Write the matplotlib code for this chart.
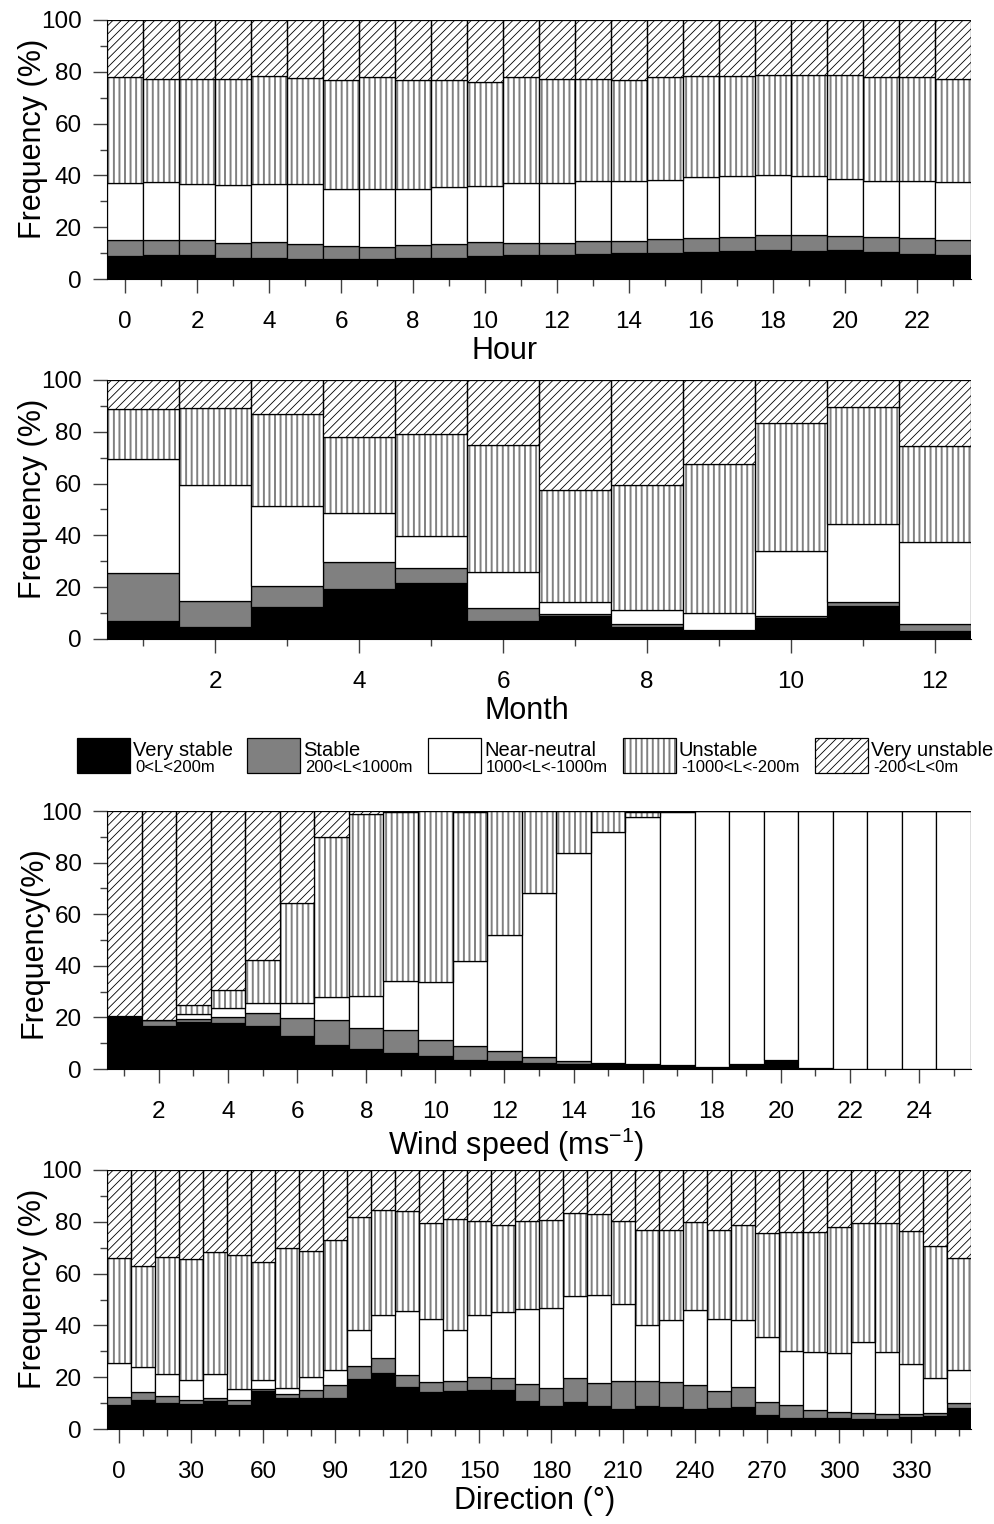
import numpy as np
import matplotlib
matplotlib.use("Agg")
import matplotlib.pyplot as plt
from matplotlib.patches import Rectangle
from matplotlib.ticker import MultipleLocator, FixedLocator

plt.rcParams['font.family'] = ['Liberation Sans', 'DejaVu Sans']
plt.rcParams['mathtext.fontset'] = 'custom'
plt.rcParams['mathtext.rm'] = 'Liberation Sans'
plt.rcParams['mathtext.it'] = 'Liberation Sans:italic'
plt.rcParams['mathtext.bf'] = 'Liberation Sans:bold'

# ---------------- data (cumulative tops of each stability class, %) ----------------
hours = np.arange(24)
hour_vs = [8.9, 9.4, 9.3, 8.1, 8.1, 7.9, 7.7, 7.7, 8.0, 8.2, 9.0, 9.3, 9.3, 9.8, 10.1, 10.1, 10.3, 11.0, 11.1, 10.8, 11.1, 10.6, 9.8, 9.3]
hour_s = [15.2, 14.9, 15.1, 14.0, 14.4, 13.7, 12.9, 12.5, 13.1, 13.7, 14.4, 14.0, 14.0, 14.7, 14.8, 15.3, 16.0, 16.2, 17.1, 16.8, 16.6, 16.4, 15.7, 15.1]
hour_nn = [36.9, 37.4, 36.6, 36.3, 36.7, 36.5, 34.9, 34.9, 34.9, 35.6, 36.1, 37.0, 37.2, 38.0, 38.0, 38.4, 39.2, 39.7, 40.3, 39.9, 38.7, 38.0, 38.0, 37.5]
hour_un = [77.8, 77.4, 77.1, 77.4, 78.4, 77.7, 76.9, 77.8, 76.9, 76.8, 76.0, 77.8, 77.1, 77.2, 76.7, 77.8, 78.4, 78.4, 78.6, 78.6, 78.6, 77.8, 77.8, 77.1]

months = np.arange(1, 13)
month_vs = [6.8, 4.8, 12.4, 19.2, 21.8, 7.0, 8.9, 4.8, 3.2, 8.0, 12.6, 3.2]
month_s = [25.3, 14.7, 20.6, 29.6, 27.4, 12.0, 9.7, 5.8, 3.3, 8.9, 14.2, 5.8]
month_nn = [69.6, 59.4, 51.5, 48.8, 39.9, 25.8, 14.2, 11.3, 10.2, 34.1, 44.5, 37.5]
month_un = [88.8, 89.2, 87.0, 77.8, 79.3, 75.0, 57.7, 59.3, 67.4, 83.4, 89.4, 74.7]

winds = np.arange(1, 26)
wind_vs = [19.7, 16.5, 18.1, 17.8, 16.5, 12.9, 9.4, 7.7, 6.2, 4.9, 3.4, 3.0, 2.2, 2.1, 2.3, 1.9, 1.5, 0.9, 1.9, 3.5, 0.5, 0, 0, 0, 0]
wind_s = [20.1, 19.0, 19.5, 20.1, 21.7, 19.9, 18.8, 16.0, 15.2, 11.4, 8.8, 7.1, 4.5, 3.0, 2.3, 1.9, 1.5, 0.9, 1.9, 3.5, 0.5, 0, 0, 0, 0]
wind_nn = [20.1, 19.0, 21.5, 23.5, 25.5, 25.5, 28.1, 28.3, 34.2, 33.7, 41.7, 51.9, 68.3, 83.6, 92.0, 97.8, 99.5, 100, 100, 100, 100, 100, 100, 100, 100]
wind_un = [20.4, 19.0, 24.9, 30.6, 42.2, 64.5, 89.9, 98.7, 99.7, 100, 99.8, 100, 100, 100, 100, 99.6, 100, 100, 100, 100, 100, 100, 100, 100, 100]

dirs = np.arange(0, 360, 10)
dir_vs = [9.4, 11.1, 10.1, 9.8, 10.8, 9.3, 14.8, 12.0, 12.0, 12.1, 19.3, 21.6, 16.2, 14.3, 14.7, 15.2, 15.1, 10.8,
          8.9, 10.3, 8.8, 7.6, 8.9, 8.4, 7.9, 8.0, 8.5, 5.4, 4.3, 4.1, 4.4, 3.9, 3.7, 4.6, 4.9, 8.1]
dir_s = [12.5, 14.2, 12.8, 11.1, 12.0, 11.1, 15.5, 13.7, 15.2, 16.8, 24.2, 27.3, 20.7, 18.2, 18.4, 20.2, 19.8, 17.3,
         15.9, 19.5, 17.9, 18.6, 18.6, 18.3, 17.0, 14.7, 16.1, 10.3, 9.1, 7.3, 6.6, 6.2, 5.7, 5.9, 6.3, 10.2]
dir_nn = [25.3, 24.1, 21.4, 18.9, 21.4, 15.5, 18.8, 15.9, 20.1, 22.9, 38.4, 44.1, 45.7, 42.5, 38.1, 44.2, 45.2, 46.3,
          46.9, 51.5, 51.8, 48.3, 40.3, 41.9, 46.1, 42.5, 42.1, 35.7, 30.0, 29.9, 29.5, 33.4, 29.9, 25.0, 19.8, 22.7]
dir_un = [65.9, 62.9, 66.6, 65.7, 68.2, 67.0, 64.4, 70.0, 68.7, 72.9, 81.7, 84.5, 84.0, 79.4, 80.9, 80.5, 78.7, 80.5,
          80.8, 83.5, 83.2, 80.3, 76.8, 76.8, 80.0, 76.8, 78.6, 75.6, 76.0, 76.0, 78.0, 79.4, 79.4, 76.3, 70.7, 66.0]

class_names = ["Very stable", "Stable", "Near-neutral", "Unstable", "Very unstable"]
class_ranges = ["0<L<200m", "200<L<1000m", "1000<L<-1000m", "-1000<L<-200m", "-200<L<0m"]

# ---------------- styles ----------------
STY = [
    dict(color='black', hatch=None, hcolor=None, hlw=None),
    dict(color='#808080', hatch=None, hcolor=None, hlw=None),
    dict(color='white', hatch=None, hcolor=None, hlw=None),
    dict(color='white', hatch='|||', hcolor='#808080', hlw=1.4),
    dict(color='white', hatch='////', hcolor='black', hlw=0.6),
]
EDGE = 'black'
EDGE_LW = 0.9
TICKC = '#404040'


def draw_bar(ax, x, h, b, w, s):
    if s['hatch'] is None:
        ax.bar(x, h, bottom=b, width=w, color=s['color'], edgecolor=EDGE, linewidth=EDGE_LW, align='center')
    else:
        with plt.rc_context({'hatch.linewidth': s['hlw'], 'hatch.color': s['hcolor']}):
            bars = ax.bar(x, h, bottom=b, width=w, color=s['color'], edgecolor=s['hcolor'],
                          linewidth=0, hatch=s['hatch'], align='center')
            for p in bars:
                if hasattr(p, 'set_hatch_linewidth'):
                    p.set_hatch_linewidth(s['hlw'])
        ax.bar(x, h, bottom=b, width=w, fill=False, edgecolor=EDGE, linewidth=EDGE_LW, align='center')


def stacked(ax, x, vs, s, nn, un, w):
    tops = np.vstack([vs, s, nn, un, np.full(len(x), 100.0)])
    bottoms = np.vstack([np.zeros(len(x)), tops[:-1]])
    heights = tops - bottoms
    for k in range(5):
        draw_bar(ax, x, heights[k], bottoms[k], w, STY[k])


def style_axis(ax, xlim, major, minor, labels, xlabel, ylabel, lx, ly):
    ax.set_xlim(*xlim)
    ax.set_ylim(0, 100)
    ax.xaxis.set_major_locator(FixedLocator(major))
    ax.xaxis.set_minor_locator(FixedLocator(minor))
    ax.set_xticklabels(labels)
    ax.yaxis.set_major_locator(MultipleLocator(20))
    ax.yaxis.set_minor_locator(MultipleLocator(10))
    ax.tick_params(axis='both', which='major', direction='out', length=10, width=1.0,
                   color=TICKC, labelsize=17.5)
    ax.tick_params(axis='both', which='minor', direction='out', length=5, width=1.0, color=TICKC)
    ax.tick_params(axis='x', which='major', pad=13)
    ax.tick_params(axis='y', which='major', pad=8)
    ax.spines['top'].set_visible(False)
    ax.spines['right'].set_visible(False)
    ax.spines['left'].set_color('black')
    ax.spines['bottom'].set_color('black')
    ax.set_xlabel(xlabel, fontsize=22)
    ax.set_ylabel(ylabel, fontsize=22)
    ax.xaxis.set_label_coords(lx, -0.22)
    ax.yaxis.set_label_coords(-0.068, ly)


fig = plt.figure(figsize=(9.94, 15.24), dpi=100)
W, H = 994.0, 1524.0
left, width = 107 / W, 864 / W


def make_ax(top_px, bottom_px):
    return fig.add_axes([left, 1 - bottom_px / H, width, (bottom_px - top_px) / H])


ax1 = make_ax(20, 279)
stacked(ax1, hours, hour_vs, hour_s, hour_nn, hour_un, 1.0)
style_axis(ax1, (-0.5, 23.5), np.arange(0, 24, 2), np.arange(1, 24, 2),
           [str(v) for v in np.arange(0, 24, 2)], "Hour", "Frequency (%)", 0.46, 0.54)

ax2 = make_ax(380, 639)
stacked(ax2, months, month_vs, month_s, month_nn, month_un, 1.0)
style_axis(ax2, (0.5, 12.5), np.arange(2, 13, 2), np.arange(1, 13, 2),
           [str(v) for v in np.arange(2, 13, 2)], "Month", "Frequency (%)", 0.486, 0.54)

ax3 = make_ax(811, 1069)
stacked(ax3, winds, wind_vs, wind_s, wind_nn, wind_un, 1.0)
style_axis(ax3, (0.5, 25.5), np.arange(2, 25, 2), np.arange(1, 26, 2),
           [str(v) for v in np.arange(2, 25, 2)], "Wind speed (ms$^{\\mathrm{-1}}$)", "Frequency(%)", 0.473, 0.49)

ax4 = make_ax(1170, 1429)
stacked(ax4, dirs, dir_vs, dir_s, dir_nn, dir_un, 10.0)
style_axis(ax4, (-5, 355), np.arange(0, 360, 30), np.arange(0, 360, 10),
           [str(v) for v in np.arange(0, 360, 30)], "Direction (°)", "Frequency (%)", 0.495, 0.54)

# ---------------- legend (between panel 2 and 3) ----------------
box_x = [77, 247, 428, 623, 815]
box_w = 53
box_top, box_bot = 738, 773
for k in range(5):
    x0 = box_x[k] / W
    y0 = 1 - box_bot / H
    s = STY[k]
    if s['hatch'] is None:
        r = Rectangle((x0, y0), box_w / W, (box_bot - box_top) / H, transform=fig.transFigure,
                      facecolor=s['color'], edgecolor=EDGE, linewidth=EDGE_LW)
        fig.add_artist(r)
    else:
        with plt.rc_context({'hatch.linewidth': s['hlw'], 'hatch.color': s['hcolor']}):
            r = Rectangle((x0, y0), box_w / W, (box_bot - box_top) / H, transform=fig.transFigure,
                          facecolor=s['color'], edgecolor=s['hcolor'], linewidth=0, hatch=s['hatch'])
            if hasattr(r, 'set_hatch_linewidth'):
                r.set_hatch_linewidth(s['hlw'])
        fig.add_artist(r)
        r2 = Rectangle((x0, y0), box_w / W, (box_bot - box_top) / H, transform=fig.transFigure,
                       fill=False, edgecolor=EDGE, linewidth=EDGE_LW)
        fig.add_artist(r2)
    tx = (box_x[k] + box_w + 3) / W
    fig.text(tx, 1 - 756 / H, class_names[k], fontsize=14.5, ha='left', va='baseline')
    fig.text(tx + 2 / W, 1 - 772 / H, class_ranges[k], fontsize=12, ha='left', va='baseline')

fig.savefig("out.png", dpi=100, facecolor='white')
